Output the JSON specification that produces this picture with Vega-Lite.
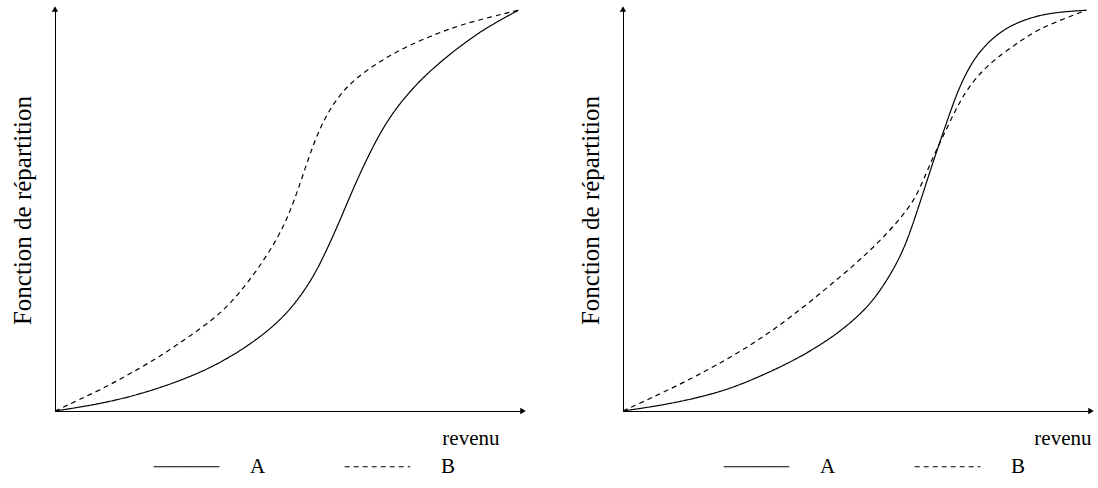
{
  "$schema": "https://vega.github.io/schema/vega-lite/v6.json",
  "padding": {"left": 10, "top": 6, "right": 4, "bottom": 0},
  "background": "white",
  "config": {
    "view": {"stroke": null},
    "font": "Liberation Serif",
    "axis": {"domainColor": "black", "domainWidth": 1, "ticks": false, "labels": false, "grid": false,
             "titleFont": "Liberation Serif", "titleFontWeight": "normal", "titleColor": "black"},
    "legend": {"labelFont": "Liberation Serif", "labelColor": "black"}
  },
  "datasets": {
    "curves": [
      {"p":"L","s":"A","x":0,"y":0},{"p":"L","s":"A","x":0.1,"y":0.018},{"p":"L","s":"A","x":0.187,"y":0.043},{"p":"L","s":"A","x":0.27,"y":0.075},{"p":"L","s":"A","x":0.34,"y":0.11},{"p":"L","s":"A","x":0.4,"y":0.15},{"p":"L","s":"A","x":0.455,"y":0.195},{"p":"L","s":"A","x":0.5,"y":0.243},{"p":"L","s":"A","x":0.532,"y":0.29},{"p":"L","s":"A","x":0.56,"y":0.34},{"p":"L","s":"A","x":0.585,"y":0.398},{"p":"L","s":"A","x":0.616,"y":0.478},{"p":"L","s":"A","x":0.647,"y":0.565},{"p":"L","s":"A","x":0.685,"y":0.658},{"p":"L","s":"A","x":0.715,"y":0.72},{"p":"L","s":"A","x":0.747,"y":0.772},{"p":"L","s":"A","x":0.79,"y":0.828},{"p":"L","s":"A","x":0.839,"y":0.878},{"p":"L","s":"A","x":0.88,"y":0.915},{"p":"L","s":"A","x":0.923,"y":0.95},{"p":"L","s":"A","x":0.96,"y":0.975},{"p":"L","s":"A","x":1,"y":1},
      {"p":"L","s":"B","x":0,"y":0},{"p":"L","s":"B","x":0.05,"y":0.027},{"p":"L","s":"B","x":0.11,"y":0.06},{"p":"L","s":"B","x":0.165,"y":0.095},{"p":"L","s":"B","x":0.225,"y":0.135},{"p":"L","s":"B","x":0.28,"y":0.178},{"p":"L","s":"B","x":0.34,"y":0.227},{"p":"L","s":"B","x":0.38,"y":0.27},{"p":"L","s":"B","x":0.417,"y":0.322},{"p":"L","s":"B","x":0.45,"y":0.375},{"p":"L","s":"B","x":0.478,"y":0.427},{"p":"L","s":"B","x":0.5,"y":0.478},{"p":"L","s":"B","x":0.516,"y":0.525},{"p":"L","s":"B","x":0.532,"y":0.578},{"p":"L","s":"B","x":0.547,"y":0.63},{"p":"L","s":"B","x":0.562,"y":0.678},{"p":"L","s":"B","x":0.58,"y":0.725},{"p":"L","s":"B","x":0.6,"y":0.765},{"p":"L","s":"B","x":0.623,"y":0.8},{"p":"L","s":"B","x":0.65,"y":0.83},{"p":"L","s":"B","x":0.685,"y":0.86},{"p":"L","s":"B","x":0.72,"y":0.885},{"p":"L","s":"B","x":0.76,"y":0.91},{"p":"L","s":"B","x":0.82,"y":0.94},{"p":"L","s":"B","x":0.877,"y":0.964},{"p":"L","s":"B","x":0.94,"y":0.983},{"p":"L","s":"B","x":1,"y":1},
      {"p":"R","s":"A","x":0,"y":0},{"p":"R","s":"A","x":0.1,"y":0.017},{"p":"R","s":"A","x":0.206,"y":0.045},{"p":"R","s":"A","x":0.28,"y":0.078},{"p":"R","s":"A","x":0.359,"y":0.12},{"p":"R","s":"A","x":0.42,"y":0.16},{"p":"R","s":"A","x":0.474,"y":0.203},{"p":"R","s":"A","x":0.52,"y":0.25},{"p":"R","s":"A","x":0.551,"y":0.293},{"p":"R","s":"A","x":0.585,"y":0.355},{"p":"R","s":"A","x":0.61,"y":0.415},{"p":"R","s":"A","x":0.628,"y":0.475},{"p":"R","s":"A","x":0.648,"y":0.545},{"p":"R","s":"A","x":0.666,"y":0.61},{"p":"R","s":"A","x":0.682,"y":0.665},{"p":"R","s":"A","x":0.697,"y":0.715},{"p":"R","s":"A","x":0.712,"y":0.765},{"p":"R","s":"A","x":0.727,"y":0.81},{"p":"R","s":"A","x":0.748,"y":0.86},{"p":"R","s":"A","x":0.773,"y":0.902},{"p":"R","s":"A","x":0.805,"y":0.938},{"p":"R","s":"A","x":0.843,"y":0.966},{"p":"R","s":"A","x":0.89,"y":0.985},{"p":"R","s":"A","x":0.935,"y":0.995},{"p":"R","s":"A","x":1,"y":1},
      {"p":"R","s":"B","x":0,"y":0},{"p":"R","s":"B","x":0.06,"y":0.032},{"p":"R","s":"B","x":0.129,"y":0.07},{"p":"R","s":"B","x":0.2,"y":0.113},{"p":"R","s":"B","x":0.282,"y":0.168},{"p":"R","s":"B","x":0.36,"y":0.232},{"p":"R","s":"B","x":0.436,"y":0.303},{"p":"R","s":"B","x":0.5,"y":0.365},{"p":"R","s":"B","x":0.551,"y":0.42},{"p":"R","s":"B","x":0.595,"y":0.475},{"p":"R","s":"B","x":0.628,"y":0.525},{"p":"R","s":"B","x":0.648,"y":0.575},{"p":"R","s":"B","x":0.666,"y":0.625},{"p":"R","s":"B","x":0.685,"y":0.672},{"p":"R","s":"B","x":0.704,"y":0.718},{"p":"R","s":"B","x":0.723,"y":0.763},{"p":"R","s":"B","x":0.745,"y":0.807},{"p":"R","s":"B","x":0.78,"y":0.855},{"p":"R","s":"B","x":0.82,"y":0.893},{"p":"R","s":"B","x":0.86,"y":0.925},{"p":"R","s":"B","x":0.896,"y":0.952},{"p":"R","s":"B","x":0.95,"y":0.978},{"p":"R","s":"B","x":1,"y":1}
    ]
  },
  "spacing": 52,
  "resolve": {"legend": {"strokeDash": "independent"}, "scale": {"x": "independent", "y": "independent", "strokeDash": "independent"}},
  "hconcat": [
    {
      "width": 468, "height": 402,
      "layer": [
        {
          "data": {"name": "curves"},
          "transform": [{"filter": "datum.p === 'L'"}],
          "mark": {"type": "line", "interpolate": "basis", "color": "black", "strokeWidth": 1.2},
          "encoding": {
            "x": {"field": "x", "type": "quantitative", "scale": {"domain": [0, 1.01], "nice": false, "zero": false},
                  "axis": {"title": "revenu", "titleFontSize": 21, "titlePadding": 16, "titleX": 444, "titleAlign": "right", "titleBaseline": "top"}},
            "y": {"field": "y", "type": "quantitative", "scale": {"domain": [0, 1.003], "nice": false, "zero": false},
                  "axis": {"title": "Fonction de répartition", "titleFontSize": 25, "titlePadding": 20}},
            "strokeDash": {"field": "s", "type": "nominal", "scale": {"domain": ["A", "B"], "range": [[1, 0], [5, 4]]},
                  "legend": {"title": null, "orient": "none", "legendX": 98, "legendY": 424, "direction": "horizontal",
                             "symbolType": "stroke", "symbolSize": 4300, "symbolStrokeWidth": 1.2, "symbolStrokeColor": "black",
                             "labelFontSize": 21, "labelOffset": 30, "columnPadding": 76}},
            "detail": {"field": "s"}
          }
        },
        {
          "data": {"values": [{}]},
          "mark": {"type": "point", "shape": "triangle-up", "filled": true, "size": 40, "color": "black", "opacity": 1, "strokeWidth": 0},
          "encoding": {"x": {"datum": 0}, "y": {"datum": 1.003}}
        },
        {
          "data": {"values": [{}]},
          "mark": {"type": "point", "shape": "triangle-right", "filled": true, "size": 40, "color": "black", "opacity": 1, "strokeWidth": 0},
          "encoding": {"x": {"datum": 1.01}, "y": {"datum": 0}}
        }
      ]
    },
    {
      "width": 468, "height": 402,
      "layer": [
        {
          "data": {"name": "curves"},
          "transform": [{"filter": "datum.p === 'R'"}],
          "mark": {"type": "line", "interpolate": "basis", "color": "black", "strokeWidth": 1.2},
          "encoding": {
            "x": {"field": "x", "type": "quantitative", "scale": {"domain": [0, 1.01], "nice": false, "zero": false},
                  "axis": {"title": "revenu", "titleFontSize": 21, "titlePadding": 16, "titleX": 468, "titleAlign": "right", "titleBaseline": "top"}},
            "y": {"field": "y", "type": "quantitative", "scale": {"domain": [0, 1.003], "nice": false, "zero": false},
                  "axis": {"title": "Fonction de répartition", "titleFontSize": 25, "titlePadding": 20}},
            "strokeDash": {"field": "s", "type": "nominal", "scale": {"domain": ["A", "B"], "range": [[1, 0], [5, 4]]},
                  "legend": {"title": null, "orient": "none", "legendX": 100, "legendY": 424, "direction": "horizontal",
                             "symbolType": "stroke", "symbolSize": 4300, "symbolStrokeWidth": 1.2, "symbolStrokeColor": "black",
                             "labelFontSize": 21, "labelOffset": 30, "columnPadding": 76}},
            "detail": {"field": "s"}
          }
        },
        {
          "data": {"values": [{}]},
          "mark": {"type": "point", "shape": "triangle-up", "filled": true, "size": 40, "color": "black", "opacity": 1, "strokeWidth": 0},
          "encoding": {"x": {"datum": 0}, "y": {"datum": 1.003}}
        },
        {
          "data": {"values": [{}]},
          "mark": {"type": "point", "shape": "triangle-right", "filled": true, "size": 40, "color": "black", "opacity": 1, "strokeWidth": 0},
          "encoding": {"x": {"datum": 1.01}, "y": {"datum": 0}}
        }
      ]
    }
  ]
}
